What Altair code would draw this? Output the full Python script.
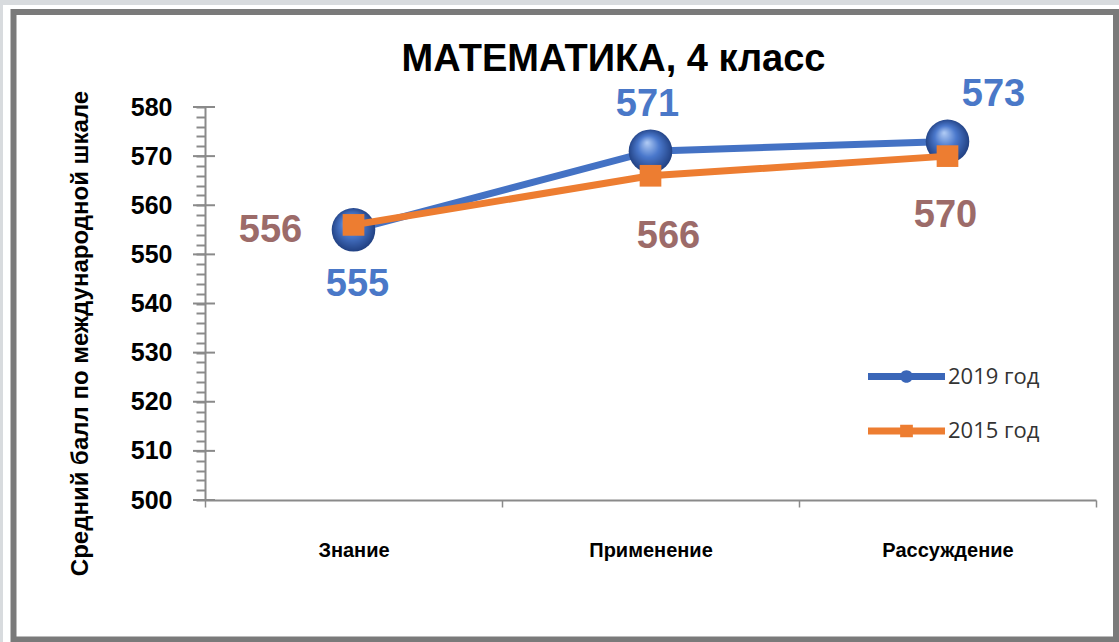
import altair as alt
import pandas as pd

# ---------------- data ----------------
CATEGORIES = ["Знание", "Применение", "Рассуждение"]
SERIES = ["2019 год", "2015 год"]
VALUES_2019 = [555, 571, 573]
VALUES_2015 = [556, 566, 570]
Y_DOMAIN = [500, 580]
MINOR_TICKS = list(range(500, 581, 2))
MAJOR_TICKS = list(range(500, 581, 10))
TITLE = "МАТЕМАТИКА, 4 класс"
Y_TITLE = "Средний балл по международной шкале"

df = pd.DataFrame({
    "category": CATEGORIES * 2,
    "series": [SERIES[0]] * len(CATEGORIES) + [SERIES[1]] * len(CATEGORIES),
    "value": VALUES_2019 + VALUES_2015,
})
ticks_df = pd.DataFrame({"value": MAJOR_TICKS})

# ---------------- style ----------------
BLUE = "#4472C4"
ORANGE = "#ED7D31"
BLUE_LABEL = "#4a78c8"
ORANGE_LABEL = "#9c6b69"
GREY = "#8a8a8a"
NARROW = "Liberation Sans Narrow, Arial Narrow, Liberation Sans, sans-serif"
SANS = "Liberation Sans, Arial, sans-serif"
LEGEND_FONT = "Open Sans, Liberation Sans, sans-serif"

# label offsets (dx, dy) per point — styling only
LABEL_OFFSETS = {
    ("2019 год", "Знание"): (4, 55),
    ("2019 год", "Применение"): (-3, -46),
    ("2019 год", "Рассуждение"): (46, -46),
    ("2015 год", "Знание"): (-83, 6),
    ("2015 год", "Применение"): (18, 61),
    ("2015 год", "Рассуждение"): (-2, 60),
}

SPHERE = {
    "gradient": "radial",
    "x1": 0.42, "y1": 0.3, "r1": 0.0,
    "x2": 0.5, "y2": 0.5, "r2": 0.55,
    "stops": [
        {"offset": 0.0, "color": "#b3cdf5"},
        {"offset": 0.45, "color": "#4a78cc"},
        {"offset": 1.0, "color": "#1b3877"},
    ],
}

PATH19 = "M-2,-0.18H2V0.18H-2Z M0.33,0A0.33,0.33,0,1,1,-0.33,0A0.33,0.33,0,1,1,0.33,0Z"
PATH15 = "M-2,-0.18H2V0.18H-2Z M-0.33,-0.33H0.33V0.33H-0.33Z"

x_enc = alt.X(
    "category:N",
    sort=CATEGORIES,
    scale=alt.Scale(type="band", domain=CATEGORIES, paddingInner=0, paddingOuter=0),
    axis=alt.Axis(
        title=None, labelAngle=0, tickBand="extent", tickSize=7, tickColor=GREY,
        tickWidth=1.5, domainColor=GREY, domainWidth=2, labelPadding=33,
        labelFont=NARROW, labelFontSize=20, labelFontWeight="bold", labelColor="black",
        labelBaseline="top", zindex=1,
    ),
)
y_scale = alt.Scale(domain=Y_DOMAIN, nice=False, zero=False)
y_enc = alt.Y(
    "value:Q",
    scale=y_scale,
    axis=alt.Axis(
        values=MINOR_TICKS, grid=False, tickSize=9, tickColor=GREY, tickWidth=2,
        domainColor=GREY, domainWidth=2, labelOverlap=False,
        labelExpr="datum.value % 10 === 0 ? datum.label : ''",
        labelPadding=24, labelFont=NARROW, labelFontSize=25, labelFontWeight="bold",
        labelColor="black",
        title=Y_TITLE, titleFont=NARROW, titleFontSize=24, titleFontWeight="bold",
        titleColor="black", titleAngle=270, titleX=-118, titleY=226,
        titleAlign="center", titleBaseline="alphabetic", zindex=1,
    ),
)

one = alt.Data(values=[{}])

outer = alt.Chart(one).mark_rect(fill="white", stroke=None).encode(
    x=alt.value(-202), x2=alt.value(914), y=alt.value(-102), y2=alt.value(535)
)
frame = alt.Chart(one).mark_rect(fill="white", stroke="#7a7a7a", strokeWidth=6).encode(
    x=alt.value(-191.5), x2=alt.value(911), y=alt.value(-95), y2=alt.value(532.5)
)

major = alt.Chart(ticks_df).mark_rule(color=GREY, strokeWidth=2).encode(
    y=y_enc, x=alt.value(-12), x2=alt.value(10)
)

legend = alt.Legend(
    title=None, orient="none", legendX=682, legendY=250, padding=0,
    symbolSize=1482, symbolStrokeWidth=0, rowPadding=23.5, labelOffset=22,
    labelFont=LEGEND_FONT, labelFontSize=22, labelColor="#333333", symbolOpacity=1,
)
legend_layer = alt.Chart(df).mark_point(filled=True, size=1, opacity=1).encode(
    x=x_enc, y=y_enc,
    color=alt.Color("series:N", scale=alt.Scale(domain=SERIES, range=["#3a66b8", ORANGE]), legend=legend),
    shape=alt.Shape("series:N", scale=alt.Scale(domain=SERIES, range=[PATH19, PATH15]), legend=legend),
)

blue_line = alt.Chart(df).transform_filter(alt.datum.series == SERIES[0]).mark_line(
    color=BLUE, strokeWidth=7).encode(x=x_enc, y=y_enc)
blue_pts = alt.Chart(df).transform_filter(alt.datum.series == SERIES[0]).mark_circle(
    color=SPHERE, size=1900, opacity=1).encode(x=x_enc, y=y_enc)
orange_line = alt.Chart(df).transform_filter(alt.datum.series == SERIES[1]).mark_line(
    color=ORANGE, strokeWidth=7).encode(x=x_enc, y=y_enc)
orange_pts = alt.Chart(df).transform_filter(alt.datum.series == SERIES[1]).mark_square(
    color=ORANGE, size=470, opacity=1).encode(x=x_enc, y=y_enc)

labels = []
for (s, c), (dx, dy) in LABEL_OFFSETS.items():
    labels.append(
        alt.Chart(df)
        .transform_filter((alt.datum.series == s) & (alt.datum.category == c))
        .mark_text(dx=dx, dy=dy, font=SANS, fontSize=38, fontWeight="bold",
                   color=BLUE_LABEL if s == SERIES[0] else ORANGE_LABEL,
                   align="center", baseline="middle")
        .encode(x=x_enc, y=y_enc, text="value:Q")
    )

chart = alt.layer(
    outer, frame, major, legend_layer, blue_line, blue_pts, orange_line, orange_pts, *labels
).properties(
    width=891, height=393,
    padding={"left": 205, "top": 107, "right": 23, "bottom": 142},
    autosize=alt.AutoSizeParams(type="none"),
    background="#d8dbde",
    title=alt.TitleParams(
        TITLE, font=SANS, fontSize=38, fontWeight="bold", color="black",
        anchor="middle", frame="group", offset=-104, baseline="alphabetic", dx=-37,
    ),
).configure_view(stroke=None)

chart.save("out.html", embed_options={"renderer": "svg", "actions": False})
